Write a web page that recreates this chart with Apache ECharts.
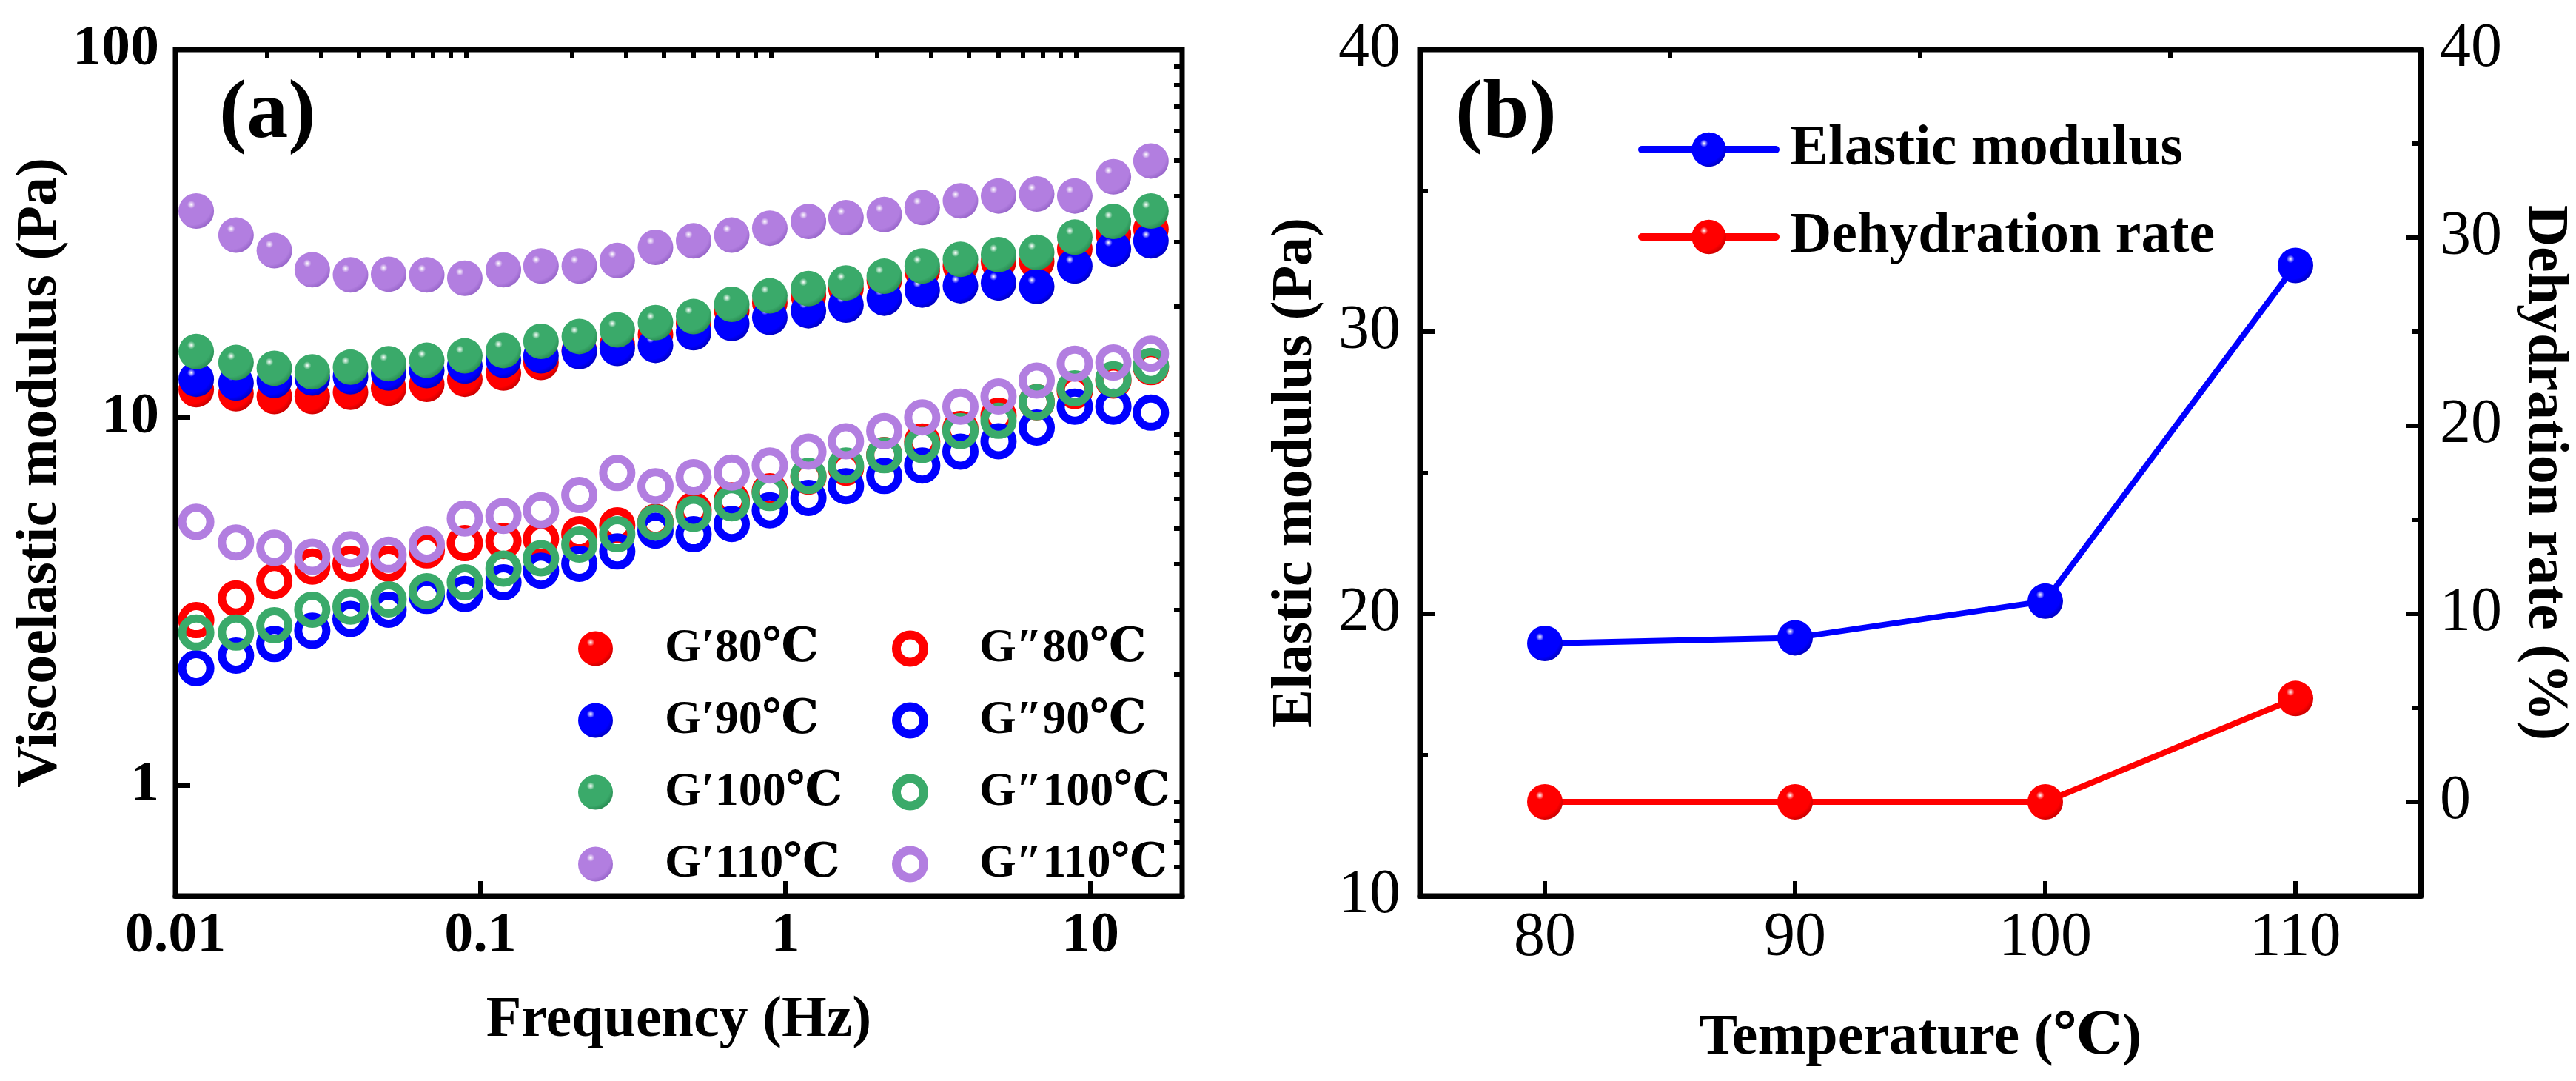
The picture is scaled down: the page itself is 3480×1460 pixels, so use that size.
<!DOCTYPE html>
<html>
<head>
<meta charset="utf-8">
<script src="https://cdn.jsdelivr.net/npm/echarts@6/dist/echarts.min.js"></script>
<style>
html, body { margin: 0; padding: 0; background: #fff; }
#chart { width: 3480px; height: 1460px; }
</style>
</head>
<body>
<div id="chart"></div>
<script>
// ---- data (a): frequency sweep ----
var freq = [0.0117, 0.0158, 0.0211, 0.0281, 0.0375, 0.05, 0.0667, 0.0889, 0.119, 0.158, 0.211, 0.281, 0.375,
            0.5, 0.667, 0.889, 1.19, 1.58, 2.11, 2.81, 3.75, 5.0, 6.67, 8.89, 11.9, 15.8];
var gp80   = [11.9, 11.6, 11.4, 11.4, 11.7, 12.0, 12.3, 12.7, 13.2, 14.1, 15.2, 15.8, 16.8, 18.0, 19.5, 20.5, 21.4, 22.4, 23.6, 25.0, 25.8, 26.5, 26.5, 28.7, 31.5, 32.5];
var gp90   = [12.7, 12.4, 12.6, 12.8, 12.9, 13.2, 13.4, 13.8, 14.3, 14.7, 15.1, 15.4, 15.7, 17.0, 18.0, 18.7, 19.5, 20.2, 21.1, 22.2, 22.8, 23.2, 22.7, 25.8, 28.7, 30.2];
var gp100  = [15.1, 14.1, 13.6, 13.3, 13.7, 14.0, 14.3, 14.7, 15.2, 16.1, 16.6, 17.3, 18.1, 18.8, 20.3, 21.4, 22.4, 23.2, 24.2, 25.8, 26.9, 27.7, 28.1, 30.9, 34.1, 36.4];
var gp110  = [36.4, 31.3, 28.4, 25.2, 24.4, 24.5, 24.4, 23.9, 25.2, 25.8, 25.8, 26.7, 29.0, 30.2, 31.3, 32.7, 34.1, 34.9, 35.6, 37.2, 38.8, 40.0, 40.5, 40.0, 45.1, 49.8];
var gpp80  = [2.81, 3.22, 3.59, 3.93, 4.00, 4.00, 4.35, 4.55, 4.61, 4.67, 4.81, 5.09, 5.20, 5.60, 5.95, 6.30, 6.90, 7.30, 7.90, 8.60, 9.30, 10.1, 11.0, 11.8, 12.6, 13.7];
var gpp90  = [2.08, 2.25, 2.42, 2.63, 2.83, 3.00, 3.27, 3.31, 3.56, 3.83, 4.00, 4.32, 4.92, 4.81, 5.13, 5.59, 6.04, 6.50, 6.93, 7.40, 8.07, 8.61, 9.38, 10.7, 10.7, 10.3];
var gpp100 = [2.60, 2.60, 2.72, 3.00, 3.06, 3.20, 3.37, 3.56, 3.88, 4.14, 4.51, 4.81, 5.18, 5.47, 5.84, 6.23, 6.93, 7.40, 7.89, 8.42, 9.18, 9.79, 11.0, 12.0, 12.7, 13.8];
var gpp110 = [5.20, 4.57, 4.42, 4.18, 4.38, 4.23, 4.51, 5.31, 5.40, 5.59, 6.15, 7.06, 6.50, 6.88, 7.08, 7.40, 8.07, 8.61, 9.18, 10.0, 10.7, 11.4, 12.6, 14.0, 14.1, 14.9];
var namesGp  = ['G\u203280\u2103', 'G\u203290\u2103', 'G\u2032100\u2103', 'G\u2032110\u2103'];
var namesGpp = ['G\u203380\u2103', 'G\u203390\u2103', 'G\u2033100\u2103', 'G\u2033110\u2103'];

// tick values (a)
var freqMajor = [0.01, 0.1, 1, 10];
var freqMinor = [0.02, 0.03, 0.04, 0.05, 0.06, 0.07, 0.08, 0.09, 0.2, 0.3, 0.4, 0.5, 0.6, 0.7, 0.8, 0.9,
                 2, 3, 4, 5, 6, 7, 8, 9, 20];
var modMajor = [1, 10, 100];
var modMinor = [0.6, 0.7, 0.8, 0.9, 2, 3, 4, 5, 6, 7, 8, 9, 20, 30, 40, 50, 60, 70, 80, 90];

// ---- data (b): temperature ----
var temps = [80, 90, 100, 110];
var elastic = [18.95, 19.15, 20.45, 32.35];
var dehydration = [0, 0, 0, 5.5];
var tempMajor = [80, 90, 100, 110];
var tempMinor = [85, 95, 105];
var rateMajor = [0, 10, 20, 30, 40];
var rateMinor = [5, 15, 25, 35];

var FONT = "'Times New Roman', 'Liberation Serif', 'DejaVu Serif', serif";
var colors = ['#ff0000', '#0000ff', '#3aaa6a', '#b27ee0'];
var darks  = ['#d00000', '#0000c8', '#2a8f55', '#9a68cc'];

function sphere(c, d) {
    return {
        type: 'radial', x: 0.36, y: 0.32, r: 0.7,
        colorStops: [
            { offset: 0, color: '#ffffff' },
            { offset: 0.16, color: c },
            { offset: 0.82, color: c },
            { offset: 1, color: d }
        ]
    };
}
function zip(xs, ys) {
    return xs.map(function (x, i) { return [x, ys[i]]; });
}
function fmt(v) { return String(+Number(v).toPrecision(3)); }

var lineW = 7;
var axisLine = { show: true, onZero: false, lineStyle: { color: '#000', width: lineW } };
var noLine = { show: false, onZero: false };
var bigTick = { show: true, inside: true, length: 20, lineStyle: { color: '#000', width: 6 } };
var smallTick = { show: true, inside: true, length: 11, lineStyle: { color: '#000', width: 6 } };
var boldLabel = { color: '#000', fontFamily: FONT, fontWeight: 'bold', fontSize: 78 };
var plainLabel = { color: '#000', fontFamily: FONT, fontSize: 84 };
var nameStyle = { color: '#000', fontFamily: FONT, fontWeight: 'bold', fontSize: 78 };
var legendText = { fontFamily: FONT, fontWeight: 'bold', fontSize: 64, lineHeight: 50, color: '#000' };

var gpSets = [gp80, gp90, gp100, gp110];
var gppSets = [gpp80, gpp90, gpp100, gpp110];
var series = [];
gpSets.forEach(function (arr, i) {
    series.push({
        name: namesGp[i], type: 'scatter', xAxisIndex: 0, yAxisIndex: 0,
        symbol: 'circle', symbolSize: 48,
        itemStyle: { color: sphere(colors[i], darks[i]), opacity: 1 },
        data: zip(freq, arr)
    });
});
gppSets.forEach(function (arr, i) {
    series.push({
        name: namesGpp[i], type: 'scatter', xAxisIndex: 0, yAxisIndex: 0,
        symbol: 'circle', symbolSize: 38,
        itemStyle: { color: 'rgba(255,255,255,0)', borderColor: colors[i], borderWidth: 11, opacity: 1 },
        data: zip(freq, arr)
    });
});
series.push({
    name: 'Elastic modulus', type: 'line', xAxisIndex: 2, yAxisIndex: 2,
    symbol: 'circle', symbolSize: 48,
    lineStyle: { color: '#0000ff', width: 8 },
    itemStyle: { color: sphere('#0000ff', '#0000c8') },
    data: zip(temps, elastic)
});
series.push({
    name: 'Dehydration rate', type: 'line', xAxisIndex: 2, yAxisIndex: 3,
    symbol: 'circle', symbolSize: 48,
    lineStyle: { color: '#ff0000', width: 8 },
    itemStyle: { color: sphere('#ff0000', '#d00000') },
    data: zip(temps, dehydration)
});

var option = {
    animation: false,
    backgroundColor: '#fff',
    title: [
        { text: '(a)', left: 296, top: 100, padding: 0, textStyle: { fontFamily: FONT, fontWeight: 'bold', fontSize: 112, color: '#000' } },
        { text: '(b)', left: 1966, top: 100, padding: 0, textStyle: { fontFamily: FONT, fontWeight: 'bold', fontSize: 112, color: '#000' } }
    ],
    grid: [
        { left: 237, top: 67, width: 1360, height: 1143, show: true, borderColor: '#000', borderWidth: lineW },
        { left: 1918, top: 67, width: 1352, height: 1143, show: true, borderColor: '#000', borderWidth: lineW }
    ],
    legend: [
        {
            data: namesGp, orient: 'vertical', left: 776, top: 839,
            itemWidth: 47, itemHeight: 47, itemGap: 33, selectedMode: false,
            textStyle: Object.assign({ padding: [0, 0, 0, 65] }, legendText)
        },
        {
            data: namesGpp, orient: 'vertical', left: 1200, top: 839,
            itemWidth: 37, itemHeight: 37, itemGap: 33, selectedMode: false,
            itemStyle: { borderWidth: 12 },
            textStyle: Object.assign({ padding: [0, 0, 0, 70] }, legendText)
        },
        {
            data: ['Elastic modulus', 'Dehydration rate'], orient: 'vertical', left: 2208, top: 158,
            itemWidth: 181, itemHeight: 58, itemGap: 40, selectedMode: false,
            lineStyle: { width: 10, cap: 'round' },
            textStyle: { fontFamily: FONT, fontWeight: 'bold', fontSize: 78, lineHeight: 58, color: '#000', padding: [0, 0, 0, 14] }
        }
    ],
    xAxis: [
        {
            type: 'log', gridIndex: 0, min: 0.01, max: 20, logBase: 10,
            name: 'Frequency (Hz)', nameLocation: 'middle', nameGap: 130, nameTextStyle: nameStyle,
            axisLine: axisLine,
            axisTick: Object.assign({ customValues: freqMajor }, bigTick),
            axisLabel: Object.assign({ customValues: freqMajor, margin: 16, formatter: fmt }, boldLabel),
            splitLine: { show: false }
        },
        {
            type: 'log', gridIndex: 0, min: 0.01, max: 20, logBase: 10,
            axisLine: noLine,
            axisTick: Object.assign({ customValues: freqMinor }, smallTick),
            axisLabel: { show: false }, splitLine: { show: false }
        },
        {
            type: 'value', gridIndex: 1, min: 75, max: 115,
            name: 'Temperature (\u2103)', nameLocation: 'middle', nameGap: 154, nameTextStyle: nameStyle,
            axisLine: axisLine,
            axisTick: Object.assign({ customValues: tempMajor }, bigTick),
            axisLabel: Object.assign({ customValues: tempMajor, margin: 16 }, plainLabel),
            splitLine: { show: false }
        },
        {
            type: 'value', gridIndex: 1, min: 75, max: 115,
            axisLine: noLine,
            axisTick: Object.assign({ customValues: tempMinor }, smallTick),
            axisLabel: { show: false }, splitLine: { show: false }
        }
    ],
    yAxis: [
        {
            type: 'log', gridIndex: 0, min: 0.5, max: 100, logBase: 10,
            name: 'Viscoelastic modulus (Pa)', nameLocation: 'middle', nameGap: 142, nameTextStyle: nameStyle,
            axisLine: axisLine,
            axisTick: Object.assign({ customValues: modMajor }, bigTick),
            axisLabel: Object.assign({ customValues: modMajor, margin: 22, formatter: fmt }, boldLabel),
            splitLine: { show: false }
        },
        {
            type: 'log', gridIndex: 0, min: 0.5, max: 100, logBase: 10,
            axisLine: noLine,
            axisTick: Object.assign({ customValues: modMinor }, smallTick),
            axisLabel: { show: false }, splitLine: { show: false }
        },
        {
            type: 'value', gridIndex: 1, position: 'left', min: 10, max: 40, interval: 10,
            name: 'Elastic modulus (Pa)', nameLocation: 'middle', nameGap: 128, nameTextStyle: nameStyle,
            axisLine: axisLine, axisTick: bigTick,
            minorTick: { show: true, splitNumber: 2, length: 11, lineStyle: { color: '#000', width: 6 } },
            axisLabel: Object.assign({ margin: 26 }, plainLabel),
            splitLine: { show: false }, minorSplitLine: { show: false }
        },
        {
            type: 'value', gridIndex: 1, position: 'right', min: -5, max: 40,
            name: 'Dehydration rate (%)', nameLocation: 'middle', nameGap: 128, nameRotate: -90, nameTextStyle: nameStyle,
            axisLine: axisLine,
            axisTick: Object.assign({ customValues: rateMajor }, bigTick),
            axisLabel: Object.assign({ customValues: rateMajor, margin: 26 }, plainLabel),
            splitLine: { show: false }
        },
        {
            type: 'value', gridIndex: 1, position: 'right', min: -5, max: 40,
            axisLine: noLine,
            axisTick: Object.assign({ customValues: rateMinor }, smallTick),
            axisLabel: { show: false }, splitLine: { show: false }
        }
    ],
    series: series
};

var chart = echarts.init(document.getElementById('chart'));
chart.setOption(option);
</script>
</body>
</html>
